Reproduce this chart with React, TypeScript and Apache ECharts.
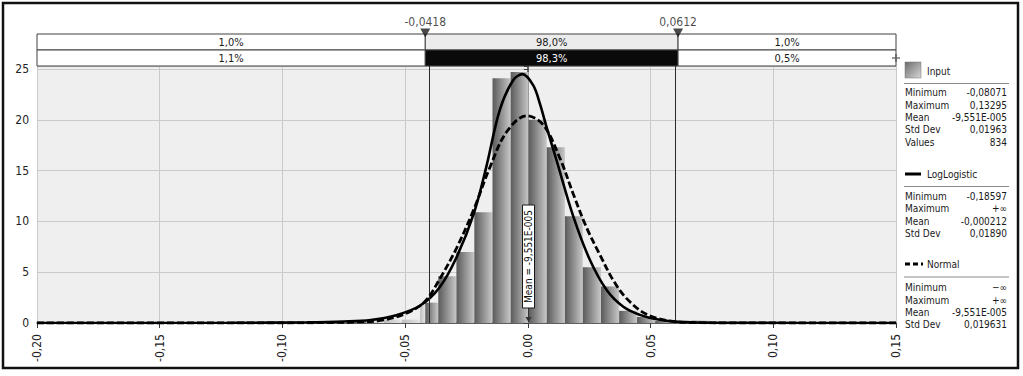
import React, { useEffect, useRef } from 'react';
import * as echarts from 'echarts';

const FONT = "'DejaVu Sans Condensed', 'DejaVu Sans', sans-serif";

const X_MIN = -0.2;
const X_MAX = 0.15;
const X_INTERVAL = 0.05;
const Y_MAX = 25.3;
const Y_INTERVAL = 5;

// Histogram bins (edges) and densities
const binEdges = [
  -0.0807, -0.0733, -0.066, -0.0586, -0.0512, -0.0439, -0.0365, -0.0291, -0.0218, -0.0144,
  -0.007, 0.0003, 0.0077, 0.0151, 0.0224, 0.0298, 0.0372, 0.0445, 0.0519, 0.0593,
  0.0667, 0.074, 0.0814, 0.0887, 0.0961, 0.1035, 0.1109, 0.1182, 0.1256, 0.133,
];
const binHeights = [
  0.16, 0, 0.16, 0.33, 0.33, 2.0, 4.6, 7.0, 10.9, 24.1,
  24.7, 20.0, 17.3, 10.5, 5.5, 3.6, 1.2, 0.6, 0.2, 0.3,
  0.3, 0.16, 0, 0, 0, 0, 0, 0, 0.16,
];

// LogLogistic fit curve
const logX = [-0.2, -0.12, -0.09, -0.075, -0.064, -0.054, -0.044, -0.036, -0.029, -0.022, -0.0169, -0.0114, -0.006, -0.0022, 0.0022, 0.0049, 0.0076, 0.0117, 0.0185, 0.0253, 0.0321, 0.0389, 0.0457, 0.0525, 0.0607, 0.075, 0.09, 0.15];
const logY = [0, 0.02, 0.07, 0.15, 0.3, 0.75, 1.7, 3.5, 6.5, 10.8, 15.4, 21.0, 23.9, 24.5, 23.4, 21.6, 19.3, 16.0, 10.5, 6.2, 3.25, 1.6, 0.8, 0.36, 0.13, 0.03, 0.01, 0];

// Normal fit curve
const normX = [-0.2, -0.1, -0.08, -0.07, -0.06, -0.05, -0.042, -0.036, -0.029, -0.022, -0.0155, -0.0087, -0.0005, 0.0063, 0.0131, 0.0185, 0.0239, 0.0294, 0.0348, 0.0403, 0.0484, 0.0593, 0.07, 0.08, 0.1, 0.15];
const normY = [0, 0, 0.05, 0.1, 0.25, 0.9, 2.1, 4.3, 7.4, 11.2, 15.3, 18.8, 20.4, 19.5, 16.2, 12.7, 9.4, 6.7, 4.2, 2.4, 0.85, 0.15, 0.03, 0, 0, 0];

// Delimiters
const markers = [-0.0418, 0.0612];
const markerLabels = ['-0,0418', '0,0612'];
const bandTopLabels = ['1,0%', '98,0%', '1,0%'];
const bandBottomLabels = ['1,1%', '98,3%', '0,5%'];

const meanValue = -9.551e-5;
const meanLabel = 'Mean = -9,551E-005';

// Legend statistics
const inputStats = [
  ['Minimum', '-0,08071'],
  ['Maximum', '0,13295'],
  ['Mean', '-9,551E-005'],
  ['Std Dev', '0,01963'],
  ['Values', '834'],
];
const logStats = [
  ['Minimum', '-0,18597'],
  ['Maximum', '+\u221e'],
  ['Mean', '-0,000212'],
  ['Std Dev', '0,01890'],
];
const normStats = [
  ['Minimum', '\u2212\u221e'],
  ['Maximum', '+\u221e'],
  ['Mean', '-9,551E-005'],
  ['Std Dev', '0,019631'],
];

const fmtNum = (v: number, d: number) => {
  const r = Math.abs(v) < 1e-9 ? 0 : v;
  return r.toFixed(d).replace('.', ',');
};

const darkGrad = {
  type: 'linear', x: 0, y: 0, x2: 1, y2: 0,
  colorStops: [
    { offset: 0, color: '#5a5a5a' },
    { offset: 1, color: '#c8c8c8' },
  ],
};
const lightGrad = {
  type: 'linear', x: 0, y: 0, x2: 1, y2: 0,
  colorStops: [
    { offset: 0, color: '#bdbdbd' },
    { offset: 1, color: '#e6e6e6' },
  ],
};

function buildLegend() {
  const els: any[] = [];
  const textStyle = (text: string, x: number, y: number, align = 'left') => ({
    type: 'text',
    style: { text, x, y, fill: '#1a1a1a', fontSize: 10, fontFamily: FONT, align, verticalAlign: 'middle' },
  });
  const section = (title: string, titleY: number, lineY: number, rowsY: number, stats: string[][]) => {
    els.push(textStyle(title, 927, titleY));
    els.push({ type: 'line', shape: { x1: 904, y1: lineY, x2: 1009, y2: lineY }, style: { stroke: '#8a8a8a', lineWidth: 1 } });
    stats.forEach((s, i) => {
      els.push(textStyle(s[0], 905, rowsY + i * 12.4));
      els.push(textStyle(s[1], 1007, rowsY + i * 12.4, 'right'));
    });
  };
  els.push({
    type: 'rect', shape: { x: 905, y: 62, width: 16, height: 16 },
    style: { fill: { type: 'linear', x: 0, y: 0, x2: 1, y2: 1, colorStops: [{ offset: 0, color: '#6a6a6a' }, { offset: 1, color: '#d8d8d8' }] }, stroke: '#777', lineWidth: 0.5 },
  });
  section('Input', 71, 83.5, 92.7, inputStats);
  els.push({ type: 'line', shape: { x1: 905, y1: 174, x2: 921, y2: 174 }, style: { stroke: '#000', lineWidth: 3 } });
  section('LogLogistic', 174, 186.5, 196.3, logStats);
  els.push({ type: 'line', shape: { x1: 905, y1: 264, x2: 923, y2: 264 }, style: { stroke: '#000', lineWidth: 3, lineDash: [5, 3] } });
  section('Normal', 264, 277, 287.7, normStats);
  els.push({ type: 'rect', shape: { x: 3, y: 3, width: 1015, height: 365 }, style: { fill: 'none', stroke: '#111', lineWidth: 2.5 }, z: 100 });
  return els;
}

export default function App() {
  const ref = useRef<HTMLDivElement>(null);
  useEffect(() => {
    document.body.style.margin = '0';
    if (!ref.current) return;
    const chart = echarts.init(ref.current, undefined, { renderer: 'svg' });

    const binData = binHeights.map((h, i) => [binEdges[i], binEdges[i + 1], h]);
    const bandEdges = [X_MIN, markers[0], markers[1], X_MAX];
    const bandData: any[] = [];
    const bandLabels: string[] = [];
    for (let i = 0; i < 3; i++) {
      bandData.push([bandEdges[i], bandEdges[i + 1], 1, i]);
      bandLabels.push(bandTopLabels[i]);
    }
    for (let i = 0; i < 3; i++) {
      bandData.push([bandEdges[i], bandEdges[i + 1], 0, 3 + i]);
      bandLabels.push(bandBottomLabels[i]);
    }

    const option: any = {
      animation: false,
      backgroundColor: '#fff',
      textStyle: { fontFamily: FONT },
      grid: [
        { left: 37, right: 127, top: 66, bottom: 53, show: true, backgroundColor: '#efefef', borderWidth: 0 },
        { left: 37, right: 127, top: 34, height: 32, show: false },
      ],
      xAxis: [
        {
          type: 'value', gridIndex: 0, min: X_MIN, max: X_MAX, interval: X_INTERVAL,
          axisLine: { show: true, lineStyle: { color: '#3a3a3a', width: 1.5 } },
          axisTick: { show: true, length: 5, lineStyle: { color: '#3a3a3a' } },
          axisLabel: { rotate: 90, margin: 11, fontSize: 12, color: '#222', fontFamily: FONT, formatter: (v: number) => fmtNum(v, 2) },
          splitLine: { show: true, lineStyle: { color: '#cacaca', width: 1 } },
        },
        { type: 'value', gridIndex: 1, min: X_MIN, max: X_MAX, show: false },
      ],
      yAxis: [
        {
          type: 'value', gridIndex: 0, min: 0, max: Y_MAX, interval: Y_INTERVAL,
          axisLine: { show: true, lineStyle: { color: '#3a3a3a', width: 1.5 } },
          axisTick: { show: true, length: 4, lineStyle: { color: '#3a3a3a' } },
          axisLabel: {
            margin: 8, fontSize: 12, color: '#222', fontFamily: FONT,
            formatter: (v: number) => (Math.abs(v / Y_INTERVAL - Math.round(v / Y_INTERVAL)) < 1e-6 ? String(Math.round(v)) : ''),
          },
          splitLine: { show: true, lineStyle: { color: '#cacaca', width: 1 } },
        },
        { type: 'value', gridIndex: 1, min: 0, max: 2, show: false },
      ],
      series: [
        {
          type: 'custom', xAxisIndex: 0, yAxisIndex: 0, z: 2,
          data: binData,
          renderItem: (params: any, api: any) => {
            const a = api.value(0), b = api.value(1), h = api.value(2);
            if (!(h > 0)) return null;
            const cuts = [a];
            markers.forEach((m) => { if (m > a && m < b) cuts.push(m); });
            cuts.push(b);
            const children: any[] = [];
            for (let k = 0; k < cuts.length - 1; k++) {
              const s = cuts[k], e = cuts[k + 1];
              const inside = s >= markers[0] - 1e-9 && e <= markers[1] + 1e-9;
              const p0 = api.coord([s, h]);
              const p1 = api.coord([e, 0]);
              children.push({
                type: 'rect',
                shape: { x: p0[0], y: p0[1], width: p1[0] - p0[0], height: p1[1] - p0[1] },
                style: { fill: inside ? darkGrad : lightGrad },
              });
            }
            return { type: 'group', children };
          },
        },
        {
          type: 'line', name: 'LogLogistic', xAxisIndex: 0, yAxisIndex: 0, z: 4,
          data: logX.map((x, i) => [x, logY[i]]),
          smooth: 0.35, showSymbol: false, symbol: 'none',
          lineStyle: { color: '#000', width: 2.6 },
        },
        {
          type: 'line', name: 'Normal', xAxisIndex: 0, yAxisIndex: 0, z: 5,
          data: normX.map((x, i) => [x, normY[i]]),
          smooth: 0.35, showSymbol: false, symbol: 'none',
          lineStyle: { color: '#000', width: 2.8, type: [7, 3] },
          markLine: {
            silent: true, symbol: 'none', label: { show: false },
            lineStyle: { color: '#2a2a2a', type: 'solid', width: 1 },
            data: markers.map((m) => ({ xAxis: m })),
          },
        },
        {
          type: 'custom', xAxisIndex: 0, yAxisIndex: 0, z: 8,
          data: [[meanValue, 0]],
          renderItem: (params: any, api: any) => {
            const p = api.coord([api.value(0), api.value(1)]);
            const x = Math.round(p[0]) + 0.5;
            const yb = p[1];
            const boxBottom = yb - 15;
            const boxH = 103;
            const boxW = 12;
            return {
              type: 'group',
              children: [
                { type: 'line', shape: { x1: x, y1: boxBottom, x2: x, y2: yb - 1 }, style: { stroke: '#333', lineWidth: 1 } },
                { type: 'polygon', shape: { points: [[x - 3, yb - 6], [x + 3, yb - 6], [x, yb - 1]] }, style: { fill: '#333' } },
                { type: 'rect', shape: { x: x - boxW / 2, y: boxBottom - boxH, width: boxW, height: boxH }, style: { fill: '#fff', stroke: '#1a1a1a', lineWidth: 1 } },
                {
                  type: 'text', x: x, y: boxBottom - boxH / 2, rotation: Math.PI / 2,
                  style: { text: meanLabel, x: 0, y: 0, fill: '#111', fontSize: 10, fontFamily: FONT, align: 'center', verticalAlign: 'middle' },
                },
              ],
            };
          },
        },
        {
          type: 'custom', xAxisIndex: 1, yAxisIndex: 1, z: 3,
          data: bandData,
          renderItem: (params: any, api: any) => {
            const s = api.value(0), e = api.value(1), r = api.value(2), idx = api.value(3);
            const p0 = api.coord([s, r + 1]);
            const p1 = api.coord([e, r]);
            const fill = idx === 1 ? '#ececec' : idx === 4 ? '#0a0a0a' : '#ffffff';
            const txtColor = idx === 4 ? '#ffffff' : '#1a1a1a';
            return {
              type: 'group',
              children: [
                {
                  type: 'rect',
                  shape: { x: p0[0], y: p0[1], width: p1[0] - p0[0], height: p1[1] - p0[1] },
                  style: { fill, stroke: '#404040', lineWidth: 1 },
                },
                {
                  type: 'text',
                  style: {
                    text: bandLabels[params.dataIndex], x: (p0[0] + p1[0]) / 2, y: (p0[1] + p1[1]) / 2 + 0.5,
                    fill: txtColor, fontSize: 11, fontFamily: FONT, align: 'center', verticalAlign: 'middle',
                  },
                },
              ],
            };
          },
        },
        {
          type: 'scatter', xAxisIndex: 1, yAxisIndex: 1, z: 9, clip: false,
          data: markers.map((m) => [m, 2]),
          symbol: 'triangle', symbolRotate: 180, symbolSize: [10, 9], symbolOffset: [0, -1],
          itemStyle: { color: '#1a1a1a' },
          label: {
            show: true, position: 'top', distance: 1, fontSize: 12, color: '#1a1a1a', fontFamily: FONT,
            formatter: (p: any) => markerLabels[p.dataIndex],
          },
        },
        {
          type: 'scatter', xAxisIndex: 1, yAxisIndex: 1, z: 9, clip: false,
          data: [[X_MAX, 0.5]],
          symbol: 'path://M4,0 L6,0 L6,4 L10,4 L10,6 L6,6 L6,10 L4,10 L4,6 L0,6 L0,4 L4,4 Z',
          symbolSize: 8,
          itemStyle: { color: '#555' },
        },
      ],
      graphic: buildLegend(),
    };
    chart.setOption(option);
    return () => chart.dispose();
  }, []);
  return <div ref={ref} style={{ width: 1023, height: 376 }} />;
}
